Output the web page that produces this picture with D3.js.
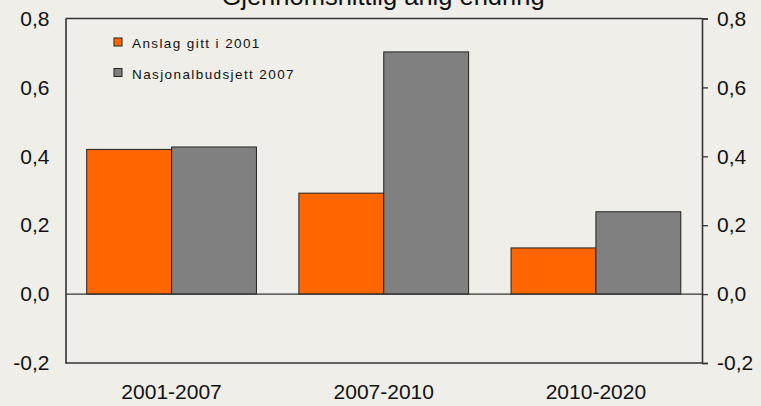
<!DOCTYPE html>
<html>
<head>
<meta charset="utf-8">
<script src="https://cdn.jsdelivr.net/npm/d3@7"></script>
<style>
    body { margin: 0; background: #efeee8; }
    text { font-family: "Liberation Sans", Arial, sans-serif; fill: #111; }
</style>
</head>
<body>
<script>
//chart data
var categories = ["2001-2007", "2007-2010", "2010-2020"];
var seriesNames = ["Anslag gitt i 2001", "Nasjonalbudsjett 2007"];
var anslag2001 = [0.42, 0.293, 0.134];
var nasjonal2007 = [0.427, 0.703, 0.239];
var tickValues = [-0.2, 0, 0.2, 0.4, 0.6, 0.8];
var colors = ["#ff6600", "#808080"];

window.onload = drawChart();

function drawChart(){
    var width = 761,
        height = 406;

    var margin = {top: 18.5, right: 59, bottom: 43, left: 65.5};

    var svg = d3.select("body")
        .append("svg")
        .attr("width", width)
        .attr("height", height);

    //scales
    var x = d3.scaleBand()
        .domain(categories)
        .range([margin.left, width - margin.right])
        .paddingInner(0.2)
        .paddingOuter(0.1);

    var y = d3.scaleLinear()
        .domain([-0.2, 0.8])
        .range([height - margin.bottom, margin.top]);

    var fmt = function(d){ return d3.format(".1f")(d).replace(".", ",").replace("−", "-"); };

    //title (cut off at the top, as in the original)
    svg.append("text")
        .attr("x", 383)
        .attr("y", 5)
        .attr("text-anchor", "middle")
        .style("font-size", "25.5px")
        .text("Gjennomsnittlig årlig endring");

    //bars
    var barW = x.bandwidth() / 2;
    var series = [anslag2001, nasjonal2007];
    series.forEach(function(vals, s){
        svg.selectAll(".bar" + s)
            .data(vals)
            .enter()
            .append("rect")
            .attr("class", "bar" + s)
            .attr("x", function(d, i){ return x(categories[i]) + s * barW; })
            .attr("y", function(d){ return y(Math.max(0, d)); })
            .attr("width", barW)
            .attr("height", function(d){ return Math.abs(y(d) - y(0)); })
            .attr("fill", colors[s])
            .attr("stroke", "#222")
            .attr("stroke-width", 1);
    });

    //frame lines
    var x0 = margin.left, x1 = width - margin.right;
    [0.8, 0, -0.2].forEach(function(v){
        svg.append("line")
            .attr("x1", x0).attr("x2", x1)
            .attr("y1", y(v)).attr("y2", y(v))
            .attr("stroke", "#333").attr("stroke-width", 1.3);
    });

    //left axis
    var left = svg.append("g")
        .attr("transform", "translate(" + x0 + ",0)")
        .call(d3.axisLeft(y).tickValues(tickValues).tickFormat(fmt).tickSize(0).tickPadding(16));

    //right axis
    var right = svg.append("g")
        .attr("transform", "translate(" + x1 + ",0)")
        .call(d3.axisRight(y).tickValues(tickValues).tickFormat(fmt).tickSize(6).tickPadding(9));

    [left, right].forEach(function(g){
        g.select(".domain").attr("stroke", "#333").attr("stroke-width", 1.6);
        g.selectAll(".tick line").attr("stroke", "#333").attr("stroke-width", 1.3);
        g.selectAll(".tick text")
            .style("font-size", "21px")
            .style("font-family", "'Liberation Sans', Arial, sans-serif")
            .attr("fill", "#111");
    });

    //category labels
    svg.selectAll(".cat")
        .data(categories)
        .enter()
        .append("text")
        .attr("class", "cat")
        .attr("x", function(d){ return x(d) + x.bandwidth() / 2; })
        .attr("y", 399)
        .attr("text-anchor", "middle")
        .style("font-size", "21px")
        .text(function(d){ return d; });

    //legend
    var legend = svg.selectAll(".legend")
        .data(seriesNames)
        .enter()
        .append("g")
        .attr("class", "legend")
        .attr("transform", function(d, i){ return "translate(114," + (38 + i * 30.5) + ")"; });

    legend.append("rect")
        .attr("width", 8)
        .attr("height", 8)
        .attr("fill", function(d, i){ return colors[i]; })
        .attr("stroke", "#222")
        .attr("stroke-width", 1);

    legend.append("text")
        .attr("x", 18)
        .attr("y", 10)
        .style("font-size", "13.5px")
        .style("letter-spacing", "1.4px")
        .text(function(d){ return d; });
}
</script>
</body>
</html>
